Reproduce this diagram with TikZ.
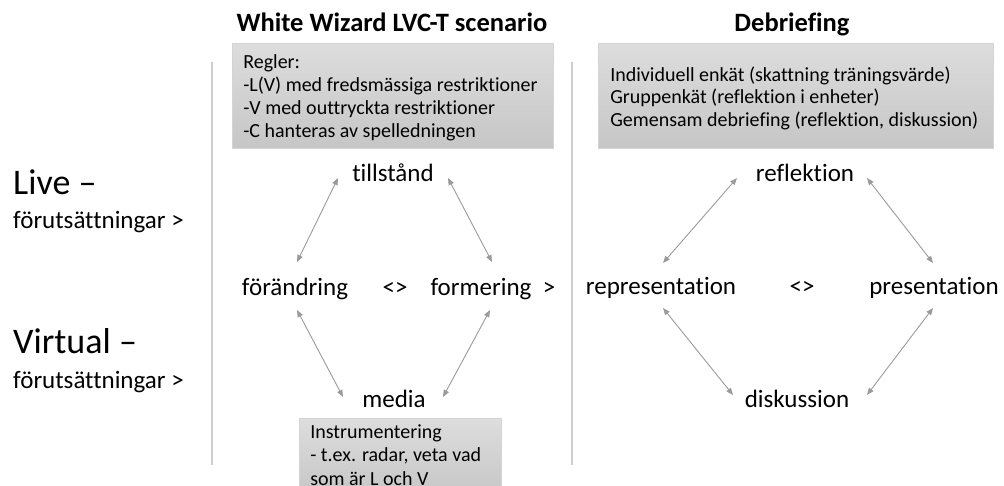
\documentclass[tikz,border=0pt]{standalone}
\usepackage{fontspec}
\setmainfont{Carlito}[Ligatures=NoCommon]
\usetikzlibrary{arrows.meta}
\definecolor{arrgray}{HTML}{9A9A9A}
\definecolor{linegray}{HTML}{CFCFCF}
\definecolor{boxtop}{HTML}{DDDDDD}
\definecolor{boxbot}{HTML}{C6C6C6}
\definecolor{boxedge}{HTML}{D4D4D4}
\hyphenpenalty=10000
\exhyphenpenalty=10000
\newcommand{\topgap}[1]{\rule{0pt}{#1pt}}
\newcommand{\botgap}[1]{\rule[-#1pt]{0pt}{#1pt}}
\tikzset{
  word/.style={font=\fontsize{25}{28}\selectfont, inner sep=0pt, anchor=base},
  titletext/.style={font=\bfseries\fontsize{26.5}{30}\selectfont, inner sep=0pt, anchor=base},
  biglabel/.style={font=\fontsize{36}{40}\selectfont, inner sep=0pt, anchor=base west},
  sublabel/.style={font=\fontsize{25}{28}\selectfont, inner sep=0pt, anchor=base west},
  graybox/.style={top color=boxtop, bottom color=boxbot, draw=boxedge, line width=0.6pt,
    align=flush left, anchor=north west, inner ysep=0pt,
    execute at begin node={\spaceskip=0pt\xspaceskip=0pt}},
  duo/.style={draw=arrgray, line width=0.9pt, {Triangle[length=7pt,width=5.5pt]}-{Triangle[length=7pt,width=5.5pt]}},
  sep/.style={draw=linegray, line width=1.4pt}
}
\begin{document}
\begin{tikzpicture}[x=1pt,y=-1pt]
\useasboundingbox (0,0) rectangle (1004,486);
\clip (0,0) rectangle (1004,486);

% titles
\node[titletext] (t1) at (392,32) {White Wizard LVC-T scenario};
\node[titletext] (t2) at (792,32) {Debriefing};

% boxes
\node[graybox, font=\fontsize{20}{23}\selectfont, inner xsep=11pt, text width=299pt] (rules) at (232,43)
  {\topgap{25}Regler:\\-L(V) med fredsmässiga restriktioner\\-V med outtryckta restriktioner\\-C hanteras av spelledningen\botgap{11}};
\node[graybox, font=\fontsize{20}{22.5}\selectfont, inner xsep=12pt, text width=371pt] (deb) at (598,43)
  {\topgap{38}Individuell enkät (skattning träningsvärde)\\Gruppenkät (reflektion i enheter)\\Gemensam debriefing (reflektion, diskussion)\botgap{22}};
\node[graybox, font=\fontsize{20}{23.5}\selectfont, inner xsep=11pt, text width=180pt] (instr) at (299,418)
  {\topgap{20}Instrumentering\\- t.ex. radar, veta vad\\som är L och V\botgap{12}};

% separators
\coordinate (s1a) at (212,62); \coordinate (s1b) at (212,465);
\coordinate (s2a) at (572,62); \coordinate (s2b) at (572,465);
\draw[sep] (s1a) -- (s1b);
\draw[sep] (s2a) -- (s2b);

% left labels
\node[biglabel] (live) at (13,195) {Live –};
\node[sublabel] (livef) at (13,229) {förutsättningar >};
\node[biglabel] (virt) at (13,353) {Virtual –};
\node[sublabel] (virtf) at (13,388) {förutsättningar >};

% left diamond
\node[word] (till) at (393,182) {tillstånd};
\node[word] (forand) at (295,296) {förändring};
\node[word] (lg1) at (395,296) {<>};
\node[word] (form) at (481,296) {formering};
\node[word] (gt1) at (549,296) {>};
\node[word] (media) at (394,407) {media};

% right diamond
\node[word] (refl) at (805,182) {reflektion};
\node[word] (repr) at (661,295) {representation};
\node[word] (lg2) at (802,295) {<>};
\node[word] (pres) at (934,295) {presentation};
\node[word] (disk) at (797,407) {diskussion};

% arrow end points
\coordinate (till-w) at (338,178);
\coordinate (till-e) at (448,178);
\coordinate (forand-n) at (297,262);
\coordinate (form-n) at (492,262);
\coordinate (forand-s) at (297,310);
\coordinate (form-s) at (490,310);
\coordinate (media-w) at (343,397);
\coordinate (media-e) at (443,397);

\coordinate (refl-w) at (737,178);
\coordinate (refl-e) at (867,178);
\coordinate (repr-n) at (663,263);
\coordinate (pres-n) at (933,263);
\coordinate (repr-s) at (663,308);
\coordinate (pres-s) at (933,308);
\coordinate (disk-w) at (733,395);
\coordinate (disk-e) at (867,395);

\draw[duo] (till-w) -- (forand-n);
\draw[duo] (till-e) -- (form-n);
\draw[duo] (forand-s) -- (media-w);
\draw[duo] (form-s) -- (media-e);

\draw[duo] (refl-w) -- (repr-n);
\draw[duo] (refl-e) -- (pres-n);
\draw[duo] (repr-s) -- (disk-w);
\draw[duo] (pres-s) -- (disk-e);
\end{tikzpicture}
\end{document}
